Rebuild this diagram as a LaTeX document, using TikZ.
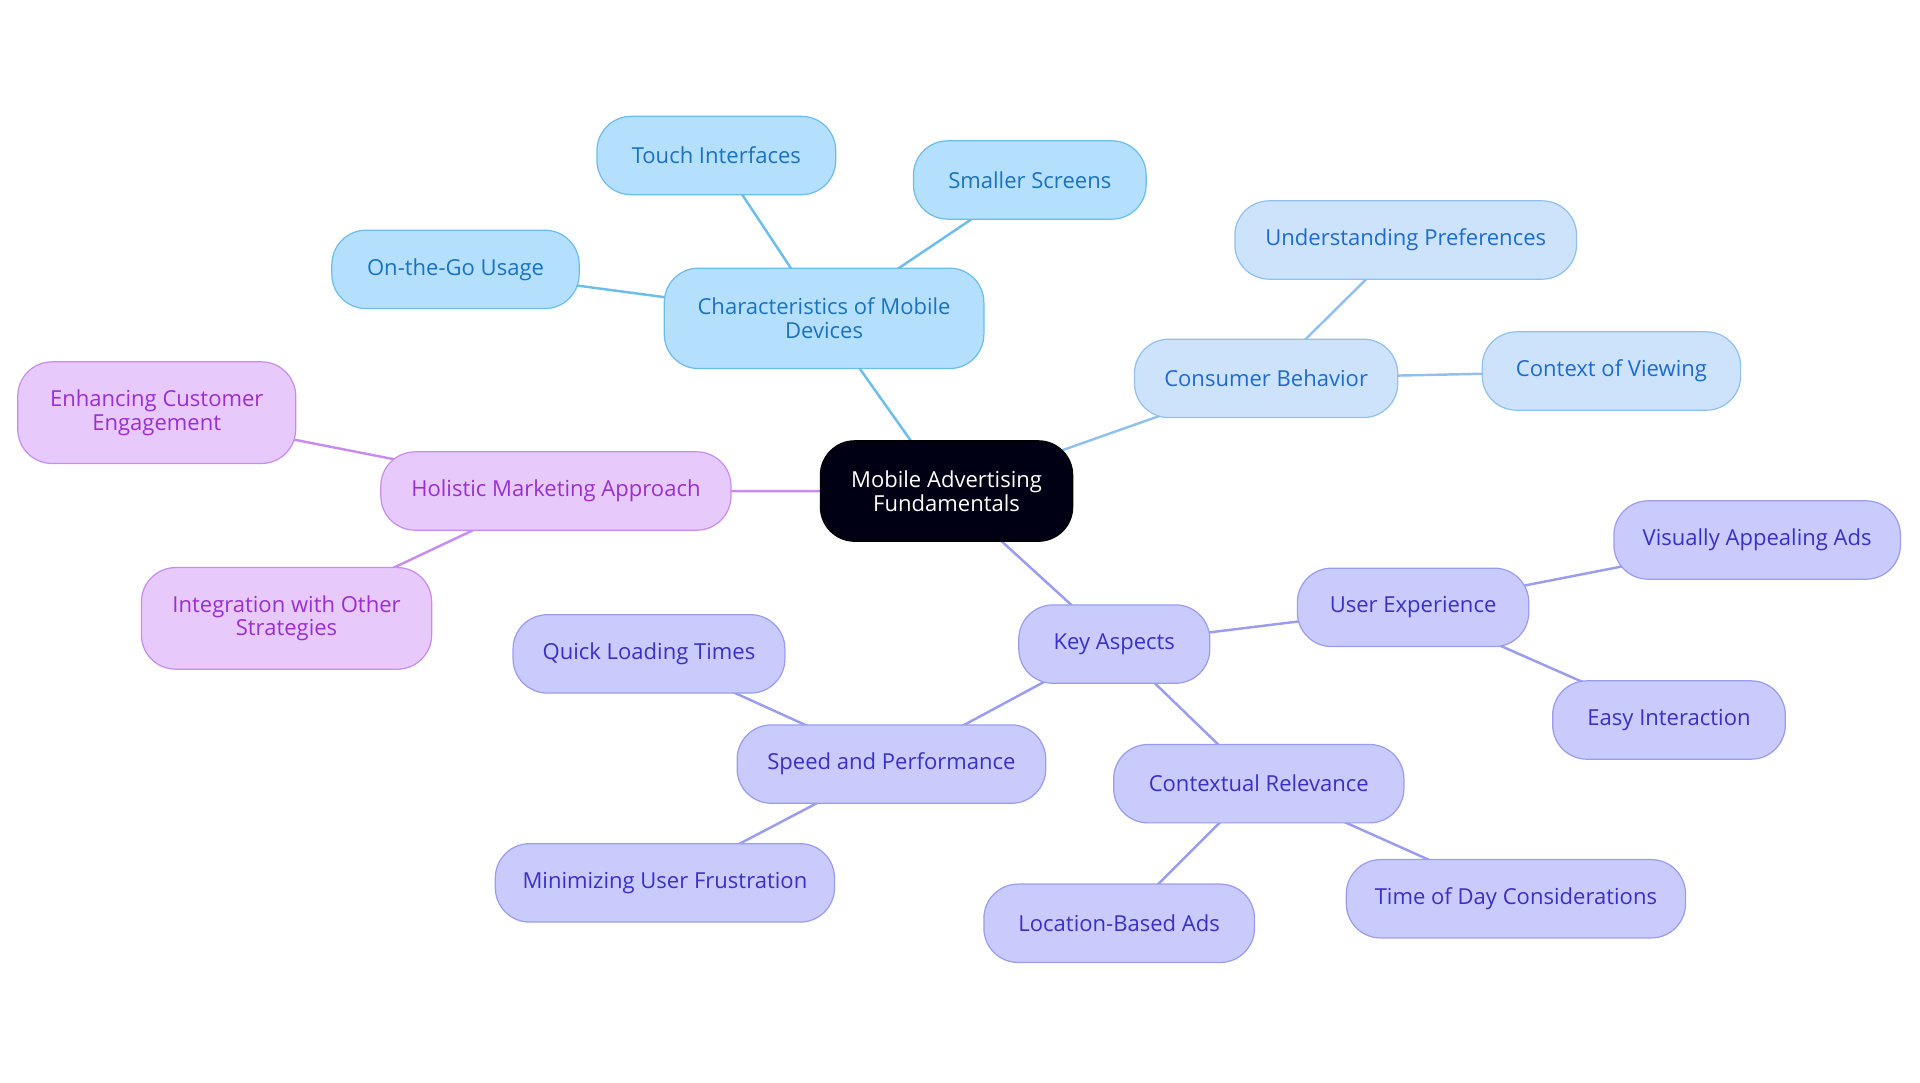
\documentclass[tikz,border=0pt]{standalone}
\usepackage{fontspec}
\setmainfont{Open Sans}
\definecolor{bF}{HTML}{B5E0FD}\definecolor{bD}{HTML}{6CBDEE}\definecolor{bT}{HTML}{1B72BE}
\definecolor{lF}{HTML}{CDE3FC}\definecolor{lD}{HTML}{92C0EE}\definecolor{lT}{HTML}{1E6BCB}
\definecolor{vF}{HTML}{C9CBFC}\definecolor{vD}{HTML}{9A9CF0}\definecolor{vT}{HTML}{3A30C4}
\definecolor{pF}{HTML}{E8C9FC}\definecolor{pD}{HTML}{C78DEE}\definecolor{pT}{HTML}{9A2FCF}
\tikzset{
 base/.style={rounded corners=14pt,line width=0.5pt,align=center,inner sep=2pt,font=\fontsize{9}{9.6}\selectfont},
 bn/.style={base,fill=bF,draw=bD,text=bT},
 ln/.style={base,fill=lF,draw=lD,text=lT},
 vn/.style={base,fill=vF,draw=vD,text=vT},
 pn/.style={base,fill=pF,draw=pD,text=pT},
 cn/.style={base,fill=black!92!blue,draw=black,text=white},
 be/.style={line width=1pt,draw=bD},
 le/.style={line width=1pt,draw=lD},
 ve/.style={line width=1pt,draw=vD},
 pe/.style={line width=1pt,draw=pD},
}
\begin{document}
\begin{tikzpicture}[x=0.5pt,y=-0.5pt]
\useasboundingbox (0,0) rectangle (1568,884);
\coordinate (c) at (773,401);
\coordinate (ch) at (673,260);
\coordinate (ti) at (585,127);
\coordinate (ss) at (841,147);
\coordinate (og) at (372,220);
\coordinate (cb) at (1034,309);
\coordinate (up) at (1148,196);
\coordinate (cv) at (1316,303);
\coordinate (hm) at (454,401);
\coordinate (ec) at (128,337);
\coordinate (io) at (234,505);
\coordinate (ka) at (910,526);
\coordinate (ux) at (1154,496);
\coordinate (va) at (1435,441);
\coordinate (ei) at (1363,588);
\coordinate (cr) at (1028,640);
\coordinate (lb) at (914,754);
\coordinate (td) at (1238,734);
\coordinate (sp) at (728,624);
\coordinate (ql) at (530,534);
\coordinate (mu) at (543,721);
\draw[be] (c)--(ch) (ch)--(ti) (ch)--(ss) (ch)--(og);
\draw[le] (c)--(cb) (cb)--(up) (cb)--(cv);
\draw[pe] (c)--(hm) (hm)--(ec) (hm)--(io);
\draw[ve] (c)--(ka) (ka)--(ux) (ux)--(va) (ux)--(ei) (ka)--(cr) (cr)--(lb) (cr)--(td) (ka)--(sp) (sp)--(ql) (sp)--(mu);
\node[cn,minimum width=103pt,minimum height=41pt] (nc) at (c) {Mobile Advertising\\Fundamentals};
\node[bn,minimum width=130.5pt,minimum height=41pt] (nch) at (ch) {Characteristics of Mobile\\Devices};
\node[bn,minimum width=97.5pt,minimum height=32pt] (nti) at (ti) {Touch Interfaces};
\node[bn,minimum width=95pt,minimum height=32pt] (nss) at (ss) {Smaller Screens};
\node[bn,minimum width=101pt,minimum height=32pt] (nog) at (og) {On-the-Go Usage};
\node[ln,minimum width=107.5pt,minimum height=32pt] (ncb) at (cb) {Consumer Behavior};
\node[ln,minimum width=139.5pt,minimum height=32pt] (nup) at (up) {Understanding Preferences};
\node[ln,minimum width=105.5pt,minimum height=32pt] (ncv) at (cv) {Context of Viewing};
\node[pn,minimum width=143pt,minimum height=32pt] (nhm) at (hm) {Holistic Marketing Approach};
\node[pn,minimum width=113.5pt,minimum height=41.5pt] (nec) at (ec) {Enhancing Customer\\Engagement};
\node[pn,minimum width=118.5pt,minimum height=41.5pt] (nio) at (io) {Integration with Other\\Strategies};
\node[vn,minimum width=78pt,minimum height=32pt] (nka) at (ka) {Key Aspects};
\node[vn,minimum width=94.5pt,minimum height=32pt] (nux) at (ux) {User Experience};
\node[vn,minimum width=117pt,minimum height=32pt] (nva) at (va) {Visually Appealing Ads};
\node[vn,minimum width=95pt,minimum height=32pt] (nei) at (ei) {Easy Interaction};
\node[vn,minimum width=118.5pt,minimum height=32pt] (ncr) at (cr) {Contextual Relevance};
\node[vn,minimum width=110.5pt,minimum height=32pt] (nlb) at (lb) {Location-Based Ads};
\node[vn,minimum width=138.5pt,minimum height=32pt] (ntd) at (td) {Time of Day Considerations};
\node[vn,minimum width=126pt,minimum height=32pt] (nsp) at (sp) {Speed and Performance};
\node[vn,minimum width=111pt,minimum height=32pt] (nql) at (ql) {Quick Loading Times};
\node[vn,minimum width=138.5pt,minimum height=32pt] (nmu) at (mu) {Minimizing User Frustration};
\end{tikzpicture}
\end{document}
